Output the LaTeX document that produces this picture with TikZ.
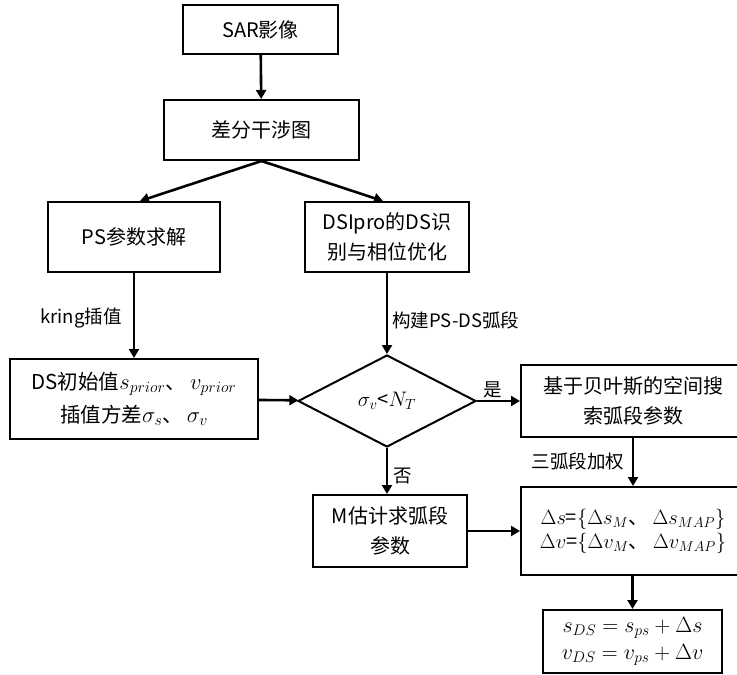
\RequirePackage{fix-cm}
\documentclass[tikz,border=0pt]{standalone}
\usepackage{fontspec}
\setmainfont{Noto Sans CJK SC}
\usetikzlibrary{arrows.meta,shapes.geometric}
\newcommand\mth[2]{{\fontsize{#1}{#1}\selectfont$#2$}}
\begin{document}
\begin{tikzpicture}[x=1pt,y=-1pt,
  box/.style={draw,line width=2pt,align=center,inner sep=0pt,font=\fontsize{20}{30}\selectfont},
  arr/.style={line width=2.6pt,-{Triangle[length=9pt,width=10pt]}},
  lbl/.style={font=\fontsize{18.5}{20}\selectfont,inner sep=0pt}]
\useasboundingbox (0,0) rectangle (737,675);
\clip (0,0) rectangle (737,675);
\fill[white] (0,0) rectangle (737,675);
\node[box,minimum width=155pt,minimum height=49pt] (sar) at (260.5,29.5) {SAR影像};
\node[box,minimum width=195pt,minimum height=60pt] (diff) at (261.5,130) {差分干涉图};
\node[box,minimum width=172pt,minimum height=70pt] (ps) at (134,237) {PS参数求解};
\node[box,minimum width=164pt,minimum height=70pt] (dsi) at (387,237) {DSIpro的DS识\\别与相位优化};
\node[box,minimum width=248pt,minimum height=80pt,font=\fontsize{20.5}{33}\selectfont] (init) at (134,399)
  {DS初始值\mth{22.5}{s_{prior}}、\hspace{4pt}\mth{22.5}{v_{prior}}\\插值方差\mth{22.5}{\sigma_s}、\hspace{4pt}\mth{22.5}{\sigma_v}};
\node[draw,diamond,line width=2pt,minimum width=178pt,minimum height=92pt,inner sep=0pt,font=\fontsize{20}{24}\selectfont] (dia) at (387,401) {\mth{21}{\sigma_v}<\mth{21}{N_T}};
\node[box,minimum width=224pt,minimum height=72pt] (bay) at (633,401) {基于贝叶斯的空间搜\\索弧段参数};
\node[box,minimum width=154pt,minimum height=72pt] (mest) at (390,531) {M估计求弧段\\参数};
\node[box,minimum width=224pt,minimum height=88pt,font=\fontsize{20}{24}\selectfont] (delta) at (633,531)
  {\mth{20.5}{\Delta s}=\mth{20.5}{\{\Delta s_M}、 \mth{20.5}{\Delta s_{MAP}\}}\\\mth{20.5}{\Delta v}=\mth{20.5}{\{\Delta v_M}、 \mth{20.5}{\Delta v_{MAP}\}}};
\node[box,minimum width=179pt,minimum height=63pt,font=\fontsize{22}{27}\selectfont] (fin) at (632.5,641.5)
  {$s_{DS} = s_{ps} + \Delta s$\\$v_{DS} = v_{ps} + \Delta v$};
\draw[arr] (sar) -- (diff);
\draw[arr] (diff.south) -- ([xshift=6pt]ps.north);
\draw[arr] (diff.south) -- ([xshift=-4pt]dsi.north);
\draw[arr] (ps) -- (init);
\draw[arr] (dsi) -- (dia);
\draw[arr] (init) -- (dia);
\draw[arr] (dia) -- (bay);
\draw[arr] (dia) -- (dia.south |- mest.north);
\draw[arr] (bay) -- (delta);
\draw[arr] (mest) -- (delta);
\draw[arr] (delta.south -| fin.north) -- (fin);
\node[lbl] (l1) at (81,318) {kring插值};
\node[lbl,anchor=west] (l2) at (392,320) {构建PS-DS弧段};
\node[lbl] (l3) at (493,390) {是};
\node[lbl] (l4) at (403,476) {否};
\node[lbl] (l5) at (578,461) {三弧段加权};
\end{tikzpicture}
\end{document}
